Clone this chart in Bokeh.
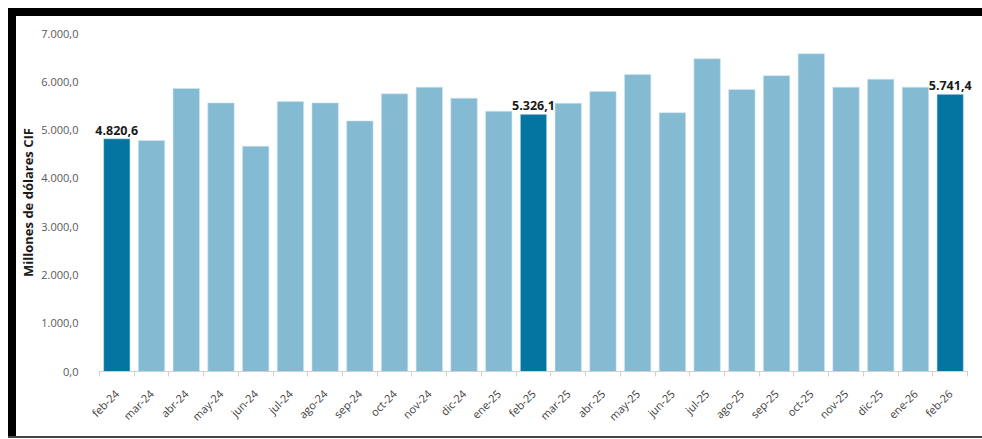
import math
from bokeh.plotting import figure
from bokeh.layouts import column, row
from bokeh.models import ColumnDataSource, FixedTicker, Range1d, LabelSet, Spacer
from bokeh.core.properties import value
from bokeh.embed import file_html
from bokeh.resources import INLINE

months = ["feb-24", "mar-24", "abr-24", "may-24", "jun-24", "jul-24", "ago-24", "sep-24",
          "oct-24", "nov-24", "dic-24", "ene-25", "feb-25", "mar-25", "abr-25", "may-25",
          "jun-25", "jul-25", "ago-25", "sep-25", "oct-25", "nov-25", "dic-25", "ene-26", "feb-26"]
values = [4820.6, 4783, 5860, 5563, 4665, 5590, 5563, 5190,
          5750, 5888, 5660, 5390, 5326.1, 5555, 5798, 6149,
          5360, 6478, 5841, 6127, 6581, 5889, 6054, 5889, 5741.4]
y_ticks = [0, 1000, 2000, 3000, 4000, 5000, 6000, 7000]
y_tick_labels = ["0,0", "1.000,0", "2.000,0", "3.000,0", "4.000,0", "5.000,0", "6.000,0", "7.000,0"]
highlight = ["feb-24", "feb-25", "feb-26"]

DARK = "#0475A1"
LIGHT = "#85BAD3"
FONT = "Open Sans"

def fmt(v):
    s = f"{v:,.1f}"
    return s.replace(",", "X").replace(".", ",").replace("X", ".")

xs = list(range(len(months)))
colors = [DARK if m in highlight else LIGHT for m in months]
src = ColumnDataSource(dict(x=xs, top=values, color=colors))

hx = [i for i, m in enumerate(months) if m in highlight]
lab = ColumnDataSource(dict(x=hx, y=[values[i] for i in hx], t=[fmt(values[i]) for i in hx]))


def sp(w, h, color=None):
    if color is None:
        return Spacer(width=w, height=h)
    return Spacer(width=w, height=h, styles={"background-color": color})


W, H = 966, 420
p = figure(width=W, height=H, output_backend="svg", toolbar_location=None,
           x_range=Range1d(-0.7, len(months) - 0.3), y_range=Range1d(0, 7000),
           min_border_left=74, min_border_right=8, min_border_top=17, min_border_bottom=65)
p.outline_line_color = None
p.xgrid.grid_line_color = None
p.ygrid.grid_line_color = None

p.vbar(x="x", top="top", width=0.76, color="color", line_color="#cfe6f0", line_width=0.6, source=src)
p.add_layout(LabelSet(x="x", y="y", text="t", source=lab, text_align="center", text_baseline="bottom",
                      y_offset=4, text_font=value(FONT), text_font_style="bold",
                      text_font_size="12.5px", text_color="#1a1a1a"))

xa = p.xaxis[0]
xa.ticker = FixedTicker(ticks=xs, minor_ticks=[i - 0.5 for i in range(len(months) + 1)])
xa.bounds = (-0.5, len(months) - 0.5)
xa.major_label_overrides = {i: m for i, m in enumerate(months)}
xa.major_label_orientation = math.pi / 4
xa.major_tick_line_color = None
xa.minor_tick_line_color = "#d0d0d0"
xa.minor_tick_out = 5
xa.minor_tick_in = 0
xa.axis_line_color = "#d0d0d0"
xa.major_label_text_font = FONT
xa.major_label_text_font_size = "11px"
xa.major_label_text_color = "#404040"
xa.major_label_standoff = 14

ya = p.yaxis[0]
ya.ticker = FixedTicker(ticks=y_ticks)
ya.major_label_overrides = {t: l for t, l in zip(y_ticks, y_tick_labels)}
ya.axis_line_color = None
ya.major_tick_line_color = None
ya.minor_tick_line_color = None
ya.major_label_text_font = FONT
ya.major_label_text_font_size = "11px"
ya.major_label_text_color = "#595959"
ya.major_label_standoff = 8
ya.axis_label = "Millones de dólares CIF"
ya.axis_label_text_font = FONT
ya.axis_label_text_font_style = "bold"
ya.axis_label_text_font_size = "13px"
ya.axis_label_text_color = "#1a1a1a"
ya.axis_label_standoff = 1

layout = column(sp(8 + 8 + W, 8),
                row(sp(8, 8), sp(8 + W, 8, "black"), spacing=0),
                row(sp(8, H), sp(8, H, "black"), p, spacing=0),
                row(sp(8, 2), sp(8 + W, 2, "#444444"), spacing=0),
                spacing=0)

open("out.html", "w").write(file_html(layout, INLINE))
